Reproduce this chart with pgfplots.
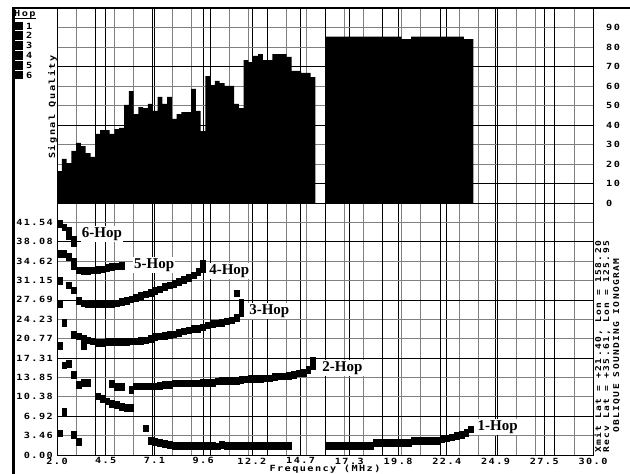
\documentclass[border=0pt]{standalone}
\usepackage{pgfplots}
\pgfplotsset{compat=1.18}
\usepackage{fontspec}
\newfontfamily\bitfont{DejaVu Sans Mono}[FakeStretch=1.2,LetterSpace=17]
\newfontfamily\hopfont{Liberation Serif}
\newcommand{\lbl}{\bitfont\bfseries\fontsize{8.5pt}{9pt}\selectfont}
\newcommand{\sidelbl}{\bitfont\bfseries\fontsize{8pt}{9pt}\selectfont}
\newcommand{\hoplbl}{\hopfont\bfseries\fontsize{15pt}{16pt}\selectfont}

\pgfplotsset{
  sounding/.style={
    scale only axis, anchor=south west, width=536pt,
    xmin=2, xmax=30,
    major tick length=0pt, minor tick length=0pt,
    axis line style={black, line width=0.7pt},
    major grid style={black, line width=0.7pt},
    minor grid style={black!50, line width=0.7pt},
    xtick={2,4.54545,7.09091,9.63636,12.18182,14.72727,17.27273,19.81818,22.36364,24.90909,27.45455,30},
    minor xtick={3,4,...,29},
    xmajorgrids, xminorgrids, yminorgrids,
    extra x ticks={4,7,10,13,16,19,22,25,28},
    extra x tick labels={},
    extra x tick style={grid=major},
    extra y tick style={grid=major},
    ticklabel style={font=\lbl, inner sep=0pt},
  },
  hop/.style={only marks, mark=square*, mark size=3.3pt,
    mark options={black, xscale=0.73}},
}

\begin{document}
\begin{tikzpicture}
\useasboundingbox (0pt,0pt) rectangle (630pt,474pt);

% ---------- signal quality (upper panel) ----------
\begin{axis}[sounding, at={(57pt,271pt)}, height=195pt,
  ymin=0, ymax=100,
  xticklabels={},
  ytick={0,10,...,100}, minor ytick={0,10,...,100},
  yticklabels={0,10,20,30,40,50,60,70,80,90,{}},
  yticklabel pos=right,
  yticklabel style={anchor=west, xshift=13pt},
  extra y ticks={10,40,70}, extra y tick labels={},
]
\addplot[const plot, fill=black, draw=none] coordinates {
(2.00,16.4)(2.25,22.6)(2.50,20.5)(2.75,26.7)(3.00,30.8)(3.25,29.2)(3.50,25.6)(3.75,23.6)
(4.00,35.4)(4.25,37.4)(4.50,37.4)(4.75,35.4)(5.00,37.9)(5.25,38.5)(5.50,50.3)(5.75,57.4)
(6.00,45.6)(6.25,49.2)(6.50,48.7)(6.75,50.8)(7.00,47.2)(7.25,54.4)(7.50,50.8)(7.75,54.4)
(8.00,43.1)(8.25,45.6)(8.50,46.6)(8.75,46.6)(9.00,58.5)(9.25,47.2)(9.50,36.9)(9.75,65.1)
(10.00,60.5)(10.25,62.6)(10.50,61.5)(10.75,60.0)(11.00,60.0)(11.25,50.8)(11.50,48.7)(11.75,73.3)
(12.00,72.3)(12.25,75.4)(12.50,76.4)(12.75,73.3)(13.00,73.3)(13.25,76.4)(13.50,76.4)(13.75,76.4)
(14.00,74.9)(14.25,67.7)(14.50,67.7)(14.75,66.7)(15.00,66.7)(15.25,64.6)(15.50,64.6)
} \closedcycle;
\addplot[const plot, fill=black, draw=none] coordinates {
(16.00,85.3)(16.25,85.3)(16.50,85.3)(16.75,85.3)(17.00,85.3)(17.25,85.3)(17.50,85.3)(17.75,85.3)
(18.00,85.3)(18.25,85.3)(18.50,85.3)(18.75,85.3)(19.00,85.3)(19.25,85.3)(19.50,85.3)(19.75,85.3)
(20.00,84.0)(20.25,84.0)(20.50,85.3)(20.75,85.3)(21.00,85.3)(21.25,85.3)(21.50,85.3)(21.75,85.3)
(22.00,85.3)(22.25,85.3)(22.50,85.3)(22.75,85.3)(23.00,85.3)(23.25,84.0)(23.50,84.0)(23.75,84.0)
} \closedcycle;
\end{axis}

% ---------- group delay traces (lower panel) ----------
\begin{axis}[sounding, at={(57pt,19pt)}, height=252pt,
  ymin=0, ymax=45,
  xticklabels={2.0,4.5,7.1,9.6,12.2,14.7,17.3,19.8,22.4,24.9,27.5,30.0},
  xticklabel style={anchor=north, yshift=-2.5pt},
  ytick={0,3.46154,6.92308,10.38462,13.84615,17.30769,20.76923,24.23077,27.69231,31.15385,34.61538,38.07692,41.53846,45},
  minor ytick={0,3.46154,6.92308,10.38462,13.84615,17.30769,20.76923,24.23077,27.69231,31.15385,34.61538,38.07692,41.53846,45},
  yticklabels={0.00,3.46,6.92,10.38,13.85,17.31,20.77,24.23,27.69,31.15,34.62,38.08,41.54,{}},
  yticklabel style={anchor=east, xshift=-4pt},
  extra y ticks={6.92308,17.30769,27.69231,38.07692}, extra y tick labels={},
]
% 6-hop
\addplot[hop] coordinates {
(2.125,41.3)(2.375,40.7)(2.625,40.0)(2.625,39.2)(2.875,38.5)(2.875,37.8)};
% 5-hop
\addplot[hop] coordinates {
(2.125,35.9)(2.375,35.9)(2.625,35.4)(2.875,34.5)(2.875,33.8)
(3.125,33.0)(3.375,32.9)(3.625,32.9)(3.875,33.0)(4.125,33.1)(4.375,33.2)
(4.625,33.4)(4.875,33.6)(5.125,33.7)(5.375,33.8)};
% 4-hop
\addplot[hop] coordinates {
(2.125,31.1)(2.625,30.3)(2.875,29.4)(3.125,27.6)(3.375,27.1)(3.625,27.0)(3.875,27.0)
(4.125,26.9)(4.375,26.9)(4.625,26.9)(4.875,27.0)(5.125,27.1)(5.375,27.4)(5.625,27.6)
(5.875,27.8)(6.125,28.1)(6.375,28.4)(6.625,28.7)(6.875,29.0)(7.125,29.3)(7.375,29.6)
(7.625,30.0)(7.875,30.3)(8.125,30.6)(8.375,30.9)(8.625,31.3)(8.875,31.7)(9.125,32.1)
(9.375,32.7)(9.625,33.3)(9.625,34.2)};
% 3-hop
\addplot[hop] coordinates {
(2.125,27.0)(2.375,23.6)(2.125,19.5)(3.375,19.5)
(2.875,21.5)(3.125,21.2)(3.375,20.8)(3.625,20.5)(3.875,20.3)(4.125,20.1)(4.375,20.1)
(4.625,20.2)(4.875,20.2)(5.125,20.2)(5.375,20.2)(5.625,20.2)(5.875,20.3)(6.125,20.3)
(6.375,20.4)(6.625,20.5)(6.875,20.8)(7.125,21.1)(7.375,21.2)(7.625,21.3)(7.875,21.5)
(8.125,21.6)(8.375,21.8)(8.625,22.1)(8.875,22.3)(9.125,22.5)(9.375,22.6)(9.625,22.8)
(9.875,23.2)(10.125,23.4)(10.375,23.5)(10.625,23.6)(10.875,23.9)(11.125,24.1)(11.375,24.5)
(11.625,25.3)(11.625,26.3)(11.625,27.2)(11.375,28.9)};
% 2-hop
\addplot[hop] coordinates {
(2.375,16.0)(2.625,16.3)(2.875,14.3)(3.125,12.6)(3.375,12.9)(3.625,12.9)
(4.875,12.7)(5.125,12.2)(5.375,12.2)(5.875,11.7)(6.125,12.3)(6.375,12.3)(6.625,12.3)
(6.875,12.3)(7.125,12.3)(7.375,12.4)(7.625,12.5)(7.875,12.6)(8.125,12.8)(8.375,12.8)
(8.625,12.8)(8.875,12.8)(9.125,12.8)(9.375,12.8)(9.625,12.9)(9.875,12.9)(10.125,12.9)
(10.375,13.2)(10.625,13.3)(10.875,13.3)(11.125,13.3)(11.375,13.3)(11.625,13.4)(11.875,13.5)
(12.125,13.6)(12.375,13.6)(12.625,13.6)(12.875,13.7)(13.125,13.7)(13.375,14.0)(13.625,14.1)
(13.875,14.1)(14.125,14.2)(14.375,14.3)(14.625,14.6)(14.875,14.7)(15.125,15.2)(15.375,15.9)
(15.375,16.9)
(4.125,10.5)(4.375,10.0)(4.625,9.6)(4.875,9.2)(5.125,9.0)(5.375,8.6)(5.625,8.4)(5.875,8.4)
(2.375,7.7)};
% 1-hop
\addplot[hop] coordinates {
(2.125,3.9)(2.875,3.6)(3.125,2.4)(6.625,4.8)
(6.875,2.6)(7.125,2.4)(7.375,2.2)(7.625,2.0)(7.875,1.8)
(8.125,1.7)(8.375,1.7)(8.625,1.7)(8.875,1.7)(9.125,1.7)(9.375,1.7)(9.625,1.7)(9.875,1.7)
(10.125,1.7)(10.375,1.6)(10.625,1.8)(10.875,1.7)(11.125,1.7)(11.375,1.7)(11.625,1.7)(11.875,1.7)
(12.125,1.7)(12.375,1.7)(12.625,1.7)(12.875,1.7)(13.125,1.7)(13.375,1.7)(13.625,1.7)(13.875,1.7)
(14.125,1.7)
(16.125,1.7)(16.375,1.7)(16.625,1.7)(16.875,1.7)(17.125,1.7)(17.375,1.7)(17.625,1.7)(17.875,1.7)
(18.125,1.7)(18.375,1.7)(18.625,2.2)(18.875,2.2)(19.125,2.2)(19.375,2.2)(19.625,2.2)(19.875,2.2)
(20.125,2.2)(20.375,2.2)(20.625,2.6)(20.875,2.6)(21.125,2.6)(21.375,2.6)(21.625,2.6)(21.875,2.6)
(22.125,2.9)(22.375,3.0)(22.625,3.2)(22.875,3.4)(23.125,3.6)(23.375,4.0)(23.625,4.6)};

\begin{scope}[every node/.style={fill=white, inner sep=1.2pt, font=\hoplbl}]
\node at (axis cs:4.35,39.46) {6-Hop};
\node at (axis cs:7.08,33.9) {5-Hop};
\node at (axis cs:11.0,32.86) {4-Hop};
\node at (axis cs:13.09,25.7) {3-Hop};
\node at (axis cs:16.91,15.5) {2-Hop};
\node at (axis cs:25.02,5.0) {1-Hop};
\end{scope}
\end{axis}

% ---------- frame, key and annotations ----------
\draw[line width=3pt] (13.5pt,0pt) -- (13.5pt,467pt);
\draw[line width=2.6pt] (12pt,466pt) -- (630pt,466pt);

\node[font=\lbl, anchor=base west, inner sep=0pt] at (14pt,457pt) {Hop};
\draw[line width=0.8pt] (14pt,455.3pt) -- (36pt,455.3pt);
\foreach \k/\yy in {1/448,2/438.2,3/428.4,4/418.6,5/408.8,6/399} {
  \fill[black] (12.5pt,\yy pt-4.4pt) rectangle (23pt,\yy pt+4.4pt);
  \node[font=\lbl, anchor=west, inner sep=0pt] at (26pt,\yy pt) {\k};
}

\node[font=\lbl, rotate=90, anchor=base, inner sep=0pt] at (55pt,367pt) {Signal Quality};
\node[font=\lbl, anchor=base, inner sep=0pt] at (325pt,2.5pt) {Frequency (MHz)};

\node[font=\sidelbl, rotate=90, anchor=base west, inner sep=0pt] at (601pt,21pt) {Xmit Lat = +21.40, Lon = 158.20};
\node[font=\sidelbl, rotate=90, anchor=base west, inner sep=0pt] at (609pt,21pt) {Recv Lat = +35.61, Lon = 125.95};
\node[font=\sidelbl, rotate=90, anchor=base west, inner sep=0pt] at (619pt,41pt) {OBLIQUE SOUNDING IONOGRAM};
\end{tikzpicture}
\end{document}
